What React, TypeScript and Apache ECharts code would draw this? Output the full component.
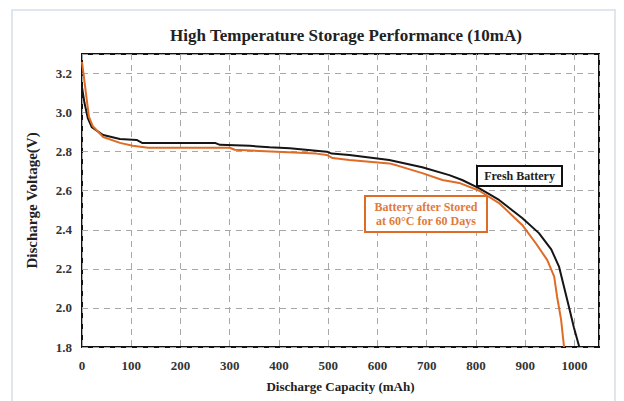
import React, { useEffect, useRef } from "react";
import * as echarts from "echarts";

const freshCapacity = [0, 5, 12, 20, 43, 77, 111, 122, 270, 280, 341, 381, 422, 497, 507, 543, 624, 691, 746, 772, 807, 847, 894, 928, 953, 969, 979, 989, 999, 1010];
const freshVoltage = [3.13, 3.05, 2.97, 2.925, 2.885, 2.865, 2.86, 2.845, 2.845, 2.835, 2.83, 2.822, 2.818, 2.8, 2.79, 2.783, 2.757, 2.72, 2.68, 2.655, 2.612, 2.553, 2.46, 2.383, 2.3, 2.21, 2.107, 2.005, 1.9, 1.8];

const storedCapacity = [0, 3, 8, 14, 22, 43, 77, 103, 134, 300, 310, 476, 497, 509, 543, 624, 639, 691, 732, 766, 807, 847, 894, 922, 945, 959, 965, 973, 979];
const storedVoltage = [3.26, 3.2, 3.1, 2.98, 2.93, 2.875, 2.845, 2.83, 2.82, 2.82, 2.81, 2.79, 2.783, 2.767, 2.757, 2.74, 2.73, 2.69, 2.655, 2.64, 2.6, 2.537, 2.425, 2.33, 2.245, 2.16, 2.056, 1.94, 1.8];

const titleText = "High Temperature Storage Performance (10mA)";
const xName = "Discharge Capacity (mAh)";
const yName = "Discharge Voltage(V)";
const freshLabel = "Fresh Battery";
const storedLabel = "Battery after Stored\nat 60°C for 60 Days";

const SERIF = "'Liberation Serif', 'DejaVu Serif', serif";
const ORANGE = "#e06b25";

export default function App() {
  const ref = useRef<HTMLDivElement>(null);
  useEffect(() => {
    if (!ref.current) return;
    const chart = echarts.init(ref.current, undefined, { renderer: "svg" });
    const fresh = freshCapacity.map((c, i) => [c, freshVoltage[i]]);
    const stored = storedCapacity.map((c, i) => [c, storedVoltage[i]]);
    chart.setOption({
      animation: false,
      backgroundColor: "#ffffff",
      title: {
        text: titleText,
        left: 341,
        textAlign: "center",
        top: 22,
        textStyle: { fontFamily: SERIF, fontWeight: "bold", fontSize: 17, color: "#222" },
      },
      grid: {
        left: 82,
        top: 54,
        right: 25,
        bottom: 54,
        show: true,
        borderColor: "#111",
        borderWidth: 2,
        backgroundColor: "transparent",
      },
      xAxis: {
        type: "value",
        min: 0,
        max: 1050,
        interval: 100,
        name: xName,
        nameLocation: "middle",
        nameGap: 33,
        nameTextStyle: { fontFamily: SERIF, fontWeight: "bold", fontSize: 13, color: "#222" },
        axisLine: { show: false },
        axisTick: { show: false },
        axisLabel: {
          margin: 12,
          fontFamily: SERIF,
          fontWeight: "bold",
          fontSize: 13,
          color: "#333",
          formatter: (v: number) => (v % 100 === 0 ? String(v) : ""),
        },
        splitLine: { show: true, lineStyle: { color: "#a8a8a8", type: [6, 5], width: 1 } },
      },
      yAxis: {
        type: "value",
        min: 1.8,
        max: 3.3,
        interval: 0.2,
        name: yName,
        nameLocation: "middle",
        nameGap: 43,
        nameRotate: 90,
        nameTextStyle: { fontFamily: SERIF, fontWeight: "bold", fontSize: 15, color: "#222" },
        axisLine: { show: false },
        axisTick: { show: false },
        axisLabel: {
          margin: 10,
          fontFamily: SERIF,
          fontWeight: "bold",
          fontSize: 13,
          color: "#333",
          formatter: (v: number) => (Math.abs(v - 3.3) < 1e-6 ? "" : v.toFixed(1)),
        },
        splitLine: { show: true, lineStyle: { color: "#a8a8a8", type: [6, 5], width: 1 } },
      },
      graphic: [
        {
          type: "rect",
          shape: { x: 12, y: 10, width: 603, height: 395 },
          style: { fill: "none", stroke: "#d6dee9", lineWidth: 1.5 },
          silent: true,
          z: -10,
        },
        {
          type: "rect",
          shape: { x: 477, y: 166, width: 85, height: 20 },
          style: { fill: "#fff", stroke: "#111", lineWidth: 2 },
          z: 100,
        },
        {
          type: "text",
          x: 519.5,
          y: 176,
          style: {
            text: freshLabel,
            fontFamily: SERIF,
            fontWeight: "bold",
            fontSize: 12,
            fill: "#222",
            align: "center",
            verticalAlign: "middle",
          },
          z: 101,
        },
        {
          type: "rect",
          shape: { x: 365, y: 196, width: 122, height: 36 },
          style: { fill: "#fff", stroke: ORANGE, lineWidth: 2 },
          z: 100,
        },
        {
          type: "text",
          x: 426,
          y: 214,
          style: {
            text: storedLabel,
            fontFamily: SERIF,
            fontWeight: "bold",
            fontSize: 12,
            lineHeight: 14,
            fill: "#e07a3a",
            align: "center",
            verticalAlign: "middle",
          },
          z: 101,
        },
      ],
      series: [
        {
          type: "line",
          data: fresh,
          showSymbol: false,
          lineStyle: { color: "#151515", width: 2 },
          z: 3,
        },
        {
          type: "line",
          data: stored,
          showSymbol: false,
          lineStyle: { color: ORANGE, width: 2 },
          z: 4,
        },
      ],
    });
    return () => chart.dispose();
  }, []);
  return <div ref={ref} style={{ position: "fixed", left: 0, top: 0, width: 624, height: 401 }} />;
}
